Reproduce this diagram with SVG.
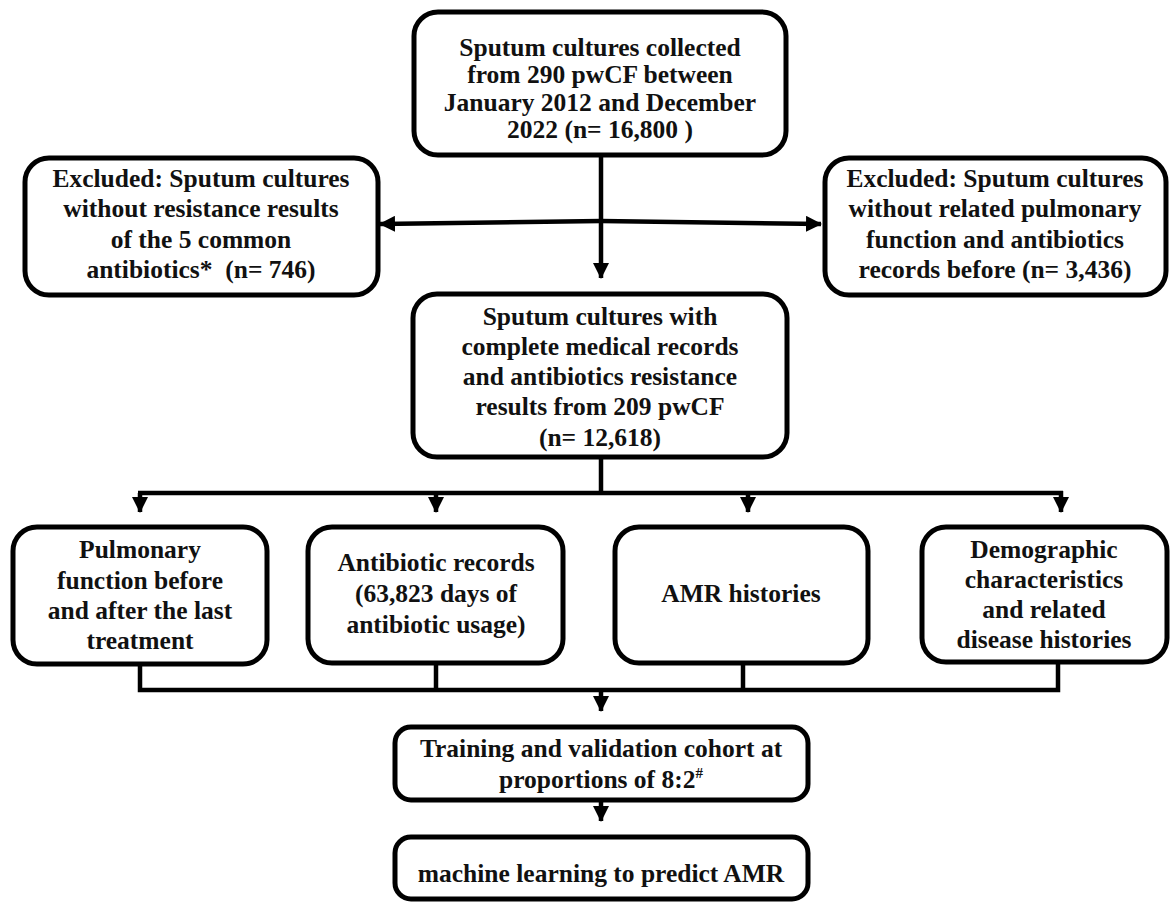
<svg xmlns="http://www.w3.org/2000/svg" width="1172" height="906" viewBox="0 0 1172 906">
<style>
.box{fill:#fff;stroke:#000;stroke-width:5}
.t{font-family:"Liberation Serif","Times New Roman",serif;font-weight:bold;font-size:25.5px;fill:#111;text-anchor:middle}
.c{fill:none;stroke:#000;stroke-width:4.5}
</style>
<defs>
<marker id="ah" viewBox="0 0 16 16" refX="15" refY="8" markerWidth="16" markerHeight="16" markerUnits="userSpaceOnUse" orient="auto">
<path d="M0,0 L16,8 L0,16 z" fill="#000"/>
</marker>
</defs>
<rect width="1172" height="906" fill="#fff"/>
<g id="connectors">
<path class="c" d="M601 155 V278" marker-end="url(#ah)"/>
<path class="c" d="M601 221 L380 224" marker-end="url(#ah)"/>
<path class="c" d="M601 221 L821 224" marker-end="url(#ah)"/>
<path class="c" d="M601 457 V493"/>
<path class="c" d="M138 493 H1063"/>
<path class="c" d="M140 493 V512" marker-end="url(#ah)"/>
<path class="c" d="M436 493 V512" marker-end="url(#ah)"/>
<path class="c" d="M748 493 V512" marker-end="url(#ah)"/>
<path class="c" d="M1061 491 V512" marker-end="url(#ah)"/>
<path class="c" d="M140 663 V690 H1058 V662"/>
<path class="c" d="M436 663 V690"/>
<path class="c" d="M743 663 V690"/>
<path class="c" d="M601 690 V711" marker-end="url(#ah)"/>
<path class="c" d="M601 800 V821" marker-end="url(#ah)"/>
</g>
<g id="n1">
<rect class="box" x="414" y="12" width="372" height="143" rx="24"/>
<text class="t" x="600" y="56">Sputum cultures collected</text>
<text class="t" x="600" y="83">from 290 pwCF between</text>
<text class="t" x="600" y="111">January 2012 and December</text>
<text class="t" x="600" y="138">2022 (n= 16,800 )</text>
</g>
<g id="n2">
<rect class="box" x="25" y="158" width="353" height="137" rx="24"/>
<text class="t" x="201" y="187">Excluded: Sputum cultures</text>
<text class="t" x="201" y="217">without resistance results</text>
<text class="t" x="201" y="248">of the 5 common</text>
<text class="t" x="201" y="278" xml:space="preserve">antibiotics*  (n= 746)</text>
</g>
<g id="n3">
<rect class="box" x="825" y="158" width="341" height="137" rx="24"/>
<text class="t" x="995" y="187">Excluded: Sputum cultures</text>
<text class="t" x="995" y="217">without related pulmonary</text>
<text class="t" x="995" y="248">function and antibiotics</text>
<text class="t" x="995" y="278">records before (n= 3,436)</text>
</g>
<g id="n4">
<rect class="box" x="413" y="294" width="374" height="163" rx="24"/>
<text class="t" x="600" y="325">Sputum cultures with</text>
<text class="t" x="600" y="355">complete medical records</text>
<text class="t" x="600" y="385">and antibiotics resistance</text>
<text class="t" x="600" y="415">results from 209 pwCF</text>
<text class="t" x="600" y="446">(n= 12,618)</text>
</g>
<g id="n5">
<rect class="box" x="13" y="527" width="254" height="137" rx="24"/>
<text class="t" x="140" y="558">Pulmonary</text>
<text class="t" x="140" y="589">function before</text>
<text class="t" x="140" y="619">and after the last</text>
<text class="t" x="140" y="649">treatment</text>
</g>
<g id="n6">
<rect class="box" x="308" y="527" width="255" height="136" rx="24"/>
<text class="t" x="436" y="571">Antibiotic records</text>
<text class="t" x="436" y="602">(63,823 days of</text>
<text class="t" x="436" y="633">antibiotic usage)</text>
</g>
<g id="n7">
<rect class="box" x="615" y="527" width="253" height="136" rx="24"/>
<text class="t" x="741" y="602">AMR histories</text>
</g>
<g id="n8">
<rect class="box" x="922" y="527" width="245" height="135" rx="24"/>
<text class="t" x="1044" y="558">Demographic</text>
<text class="t" x="1044" y="588">characteristics</text>
<text class="t" x="1044" y="618">and related</text>
<text class="t" x="1044" y="648">disease histories</text>
</g>
<g id="n9">
<rect class="box" x="395" y="727" width="413" height="73" rx="16"/>
<text class="t" x="601" y="757">Training and validation cohort at</text>
<text class="t" x="601" y="788">proportions of 8:2<tspan font-size="15" dy="-10">#</tspan></text>
</g>
<g id="n10">
<rect class="box" x="395" y="837" width="413" height="62" rx="16"/>
<text class="t" x="601" y="882">machine learning to predict AMR</text>
</g>
</svg>
